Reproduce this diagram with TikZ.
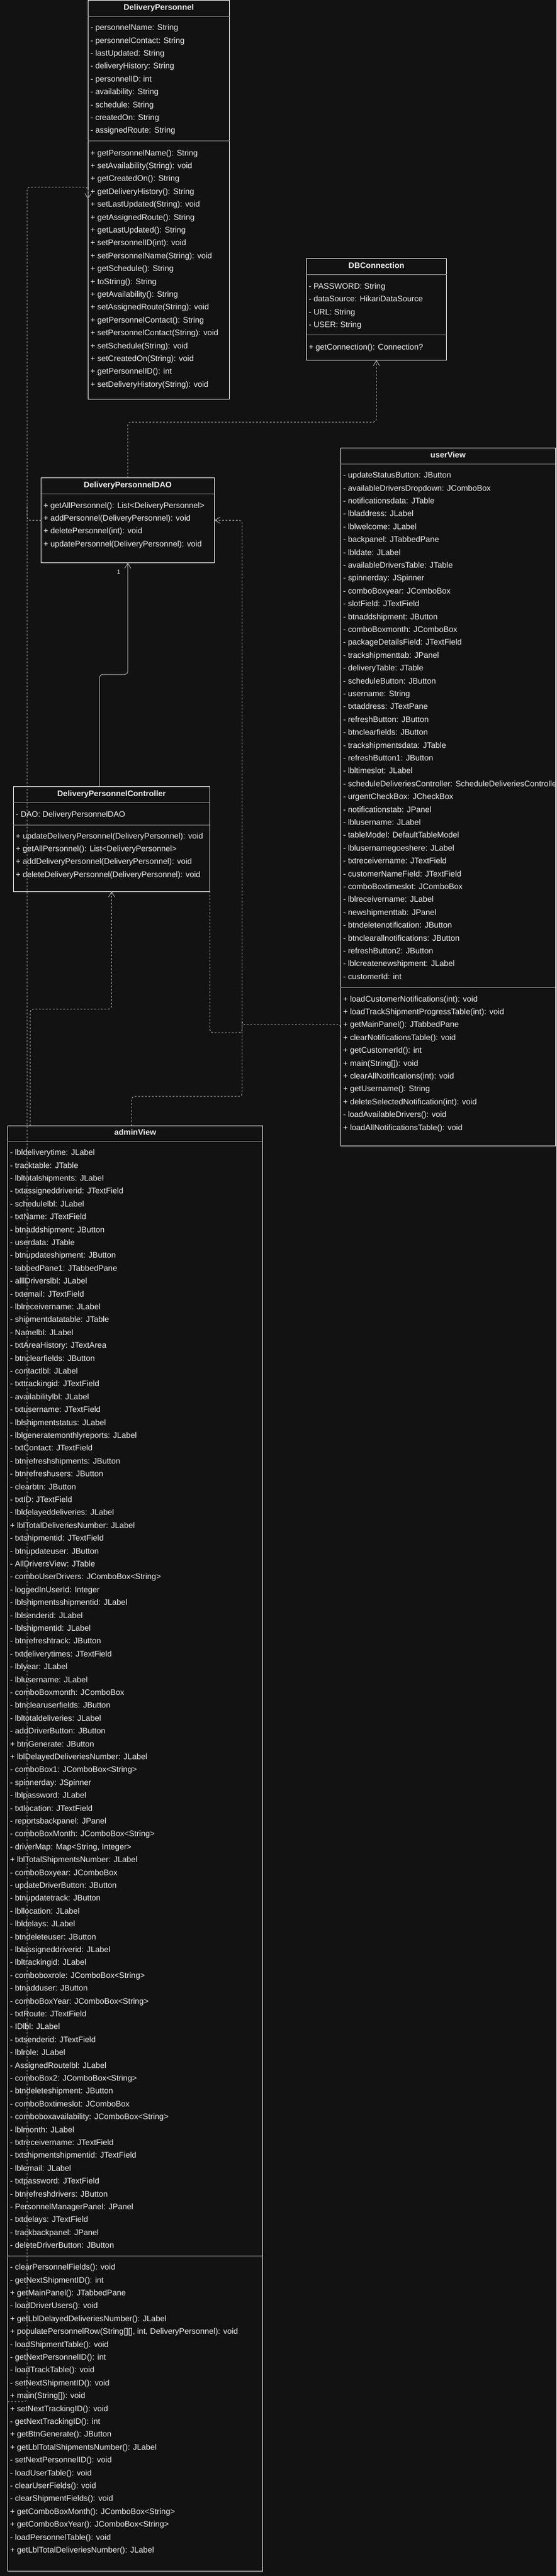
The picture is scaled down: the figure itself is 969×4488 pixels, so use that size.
\documentclass[tikz,border=0pt]{standalone}
\usepackage{fontspec}
\setmainfont{Liberation Sans}
\usetikzlibrary{arrows.meta}
\definecolor{bgc}{HTML}{121212}
\definecolor{fgc}{HTML}{F0F0F0}
\definecolor{sepc}{HTML}{9A9A9A}
\definecolor{edgec}{HTML}{A8A8A8}
% rows of one compartment: name, x, first baseline, entries
\newcommand\umlrows[4]{\foreach \txt [count=\i] in {#4} {\node[row] (#1-\i) at (#2,{#3+22.4*(\i-1)}) {\txt};}}
\begin{document}
\begin{tikzpicture}[x=1pt,y=-1pt,
	box/.style={draw=white,fill=bgc,anchor=north west,inner sep=0,outer sep=0,line width=1pt},
	ttl/.style={anchor=base,inner sep=0,text=fgc,font=\bfseries\fontsize{14}{16}\selectfont},
	row/.style={anchor=base west,inner sep=0,text=fgc,font=\fontsize{14}{16}\selectfont},
	sep/.style={draw=sepc,line width=1pt},
	dep/.style={draw=edgec,line width=1pt,dash pattern=on 3pt off 3pt,rounded corners=5pt},
	assoc/.style={draw=edgec,line width=1pt,rounded corners=5pt},
	tip/.style={-{Straight Barb[length=9pt,width=11pt]}},
	mult/.style={inner sep=0,text=fgc,font=\fontsize{11}{13}\selectfont}]
	\useasboundingbox (0,0) rectangle (969,4488);
	\fill[bgc] (0,0) rectangle (969,4488);

	\node[box,minimum width=246.2pt,minimum height=694.5pt] (dp) at (153.3,0.5) {};
	\node[ttl] (dp-t) at (276.4,18) {DeliveryPersonnel};
	\draw[sep] (153.3,28.5) -- (399.5,28.5);
	\draw[sep] (153.3,245.5) -- (399.5,245.5);
	\umlrows{dp-a}{157.3}{52.8}{- personnelName: String, - personnelContact: String, - lastUpdated: String, - deliveryHistory: String, - personnelID: int, - availability: String, - schedule: String, - createdOn: String, - assignedRoute: String}
	\umlrows{dp-m}{157.3}{271}{+ getPersonnelName(): String, + setAvailability(String): void, + getCreatedOn(): String, + getDeliveryHistory(): String, + setLastUpdated(String): void, + getAssignedRoute(): String, + getLastUpdated(): String, + setPersonnelID(int): void, + setPersonnelName(String): void, + getSchedule(): String, + toString(): String, + getAvailability(): String, + setAssignedRoute(String): void, + getPersonnelContact(): String, + setPersonnelContact(String): void, + setSchedule(String): void, + setCreatedOn(String): void, + getPersonnelID(): int, + setDeliveryHistory(String): void}

	\node[box,minimum width=244.4pt,minimum height=177pt] (db) at (533.3,450.3) {};
	\node[ttl] (db-t) at (655.5,467.5) {DBConnection};
	\draw[sep] (533.3,478.3) -- (777.7,478.3);
	\draw[sep] (533.3,583.3) -- (777.7,583.3);
	\umlrows{db-a}{537.3}{503.3}{- PASSWORD: String, - dataSource: HikariDataSource, - URL: String, - USER: String}
	\umlrows{db-m}{537.3}{609.3}{+ getConnection(): Connection?}

	\node[box,minimum width=301.9pt,minimum height=148pt] (dao) at (71.6,832.3) {};
	\node[ttl] (dao-t) at (222.5,849) {DeliveryPersonnelDAO};
	\draw[sep] (71.6,860.3) -- (373.5,860.3);
	\umlrows{dao-m}{75.6}{885}{+ getAllPersonnel(): List<DeliveryPersonnel>, + addPersonnel(DeliveryPersonnel): void, + deletePersonnel(int): void, + updatePersonnel(DeliveryPersonnel): void}

	\node[box,minimum width=342.2pt,minimum height=182.6pt] (dpc) at (23.3,1370.4) {};
	\node[ttl] (dpc-t) at (194.4,1387.5) {DeliveryPersonnelController};
	\draw[sep] (23.3,1398) -- (365.5,1398);
	\draw[sep] (23.3,1437) -- (365.5,1437);
	\umlrows{dpc-a}{27.3}{1423}{- DAO: DeliveryPersonnelDAO}
	\umlrows{dpc-m}{27.3}{1461}{+ updateDeliveryPersonnel(DeliveryPersonnel): void, + getAllPersonnel(): List<DeliveryPersonnel>, + addDeliveryPersonnel(DeliveryPersonnel): void, + deleteDeliveryPersonnel(DeliveryPersonnel): void}

	\node[box,minimum width=374pt,minimum height=1216.4pt] (uv) at (593.3,780.3) {};
	\node[ttl] (uv-t) at (780.3,797.5) {userView};
	\draw[sep] (593.3,808) -- (967.3,808);
	\draw[sep] (593.3,1720) -- (967.3,1720);
	\begin{scope}
	\clip (593.3,780.3) rectangle (966.8,1996.7);
	\umlrows{uv-a}{597.3}{832.7}{- updateStatusButton: JButton, - availableDriversDropdown: JComboBox, - notificationsdata: JTable, - lbladdress: JLabel, - lblwelcome: JLabel, - backpanel: JTabbedPane, - lbldate: JLabel, - availableDriversTable: JTable, - spinnerday: JSpinner, - comboBoxyear: JComboBox, - slotField: JTextField, - btnaddshipment: JButton, - comboBoxmonth: JComboBox, - packageDetailsField: JTextField, - trackshipmenttab: JPanel, - deliveryTable: JTable, - scheduleButton: JButton, - username: String, - txtaddress: JTextPane, - refreshButton: JButton, - btnclearfields: JButton, - trackshipmentsdata: JTable, - refreshButton1: JButton, - lbltimeslot: JLabel, - scheduleDeliveriesController: ScheduleDeliveriesController, - urgentCheckBox: JCheckBox, - notificationstab: JPanel, - lblusername: JLabel, - tableModel: DefaultTableModel, - lblusernamegoeshere: JLabel, - txtreceivername: JTextField, - customerNameField: JTextField, - comboBoxtimeslot: JComboBox, - lblreceivername: JLabel, - newshipmenttab: JPanel, - btndeletenotification: JButton, - btnclearallnotifications: JButton, - refreshButton2: JButton, - lblcreatenewshipment: JLabel, - customerId: int}
	\umlrows{uv-m}{597.3}{1745}{+ loadCustomerNotifications(int): void, + loadTrackShipmentProgressTable(int): void, + getMainPanel(): JTabbedPane, + clearNotificationsTable(): void, + getCustomerId(): int, {+ main(String[]): void}, + clearAllNotifications(int): void, + getUsername(): String, + deleteSelectedNotification(int): void, - loadAvailableDrivers(): void, + loadAllNotificationsTable(): void}
	\end{scope}

	\node[box,minimum width=444.4pt,minimum height=2518pt] (av) at (13.3,1961) {};
	\node[ttl] (av-t) at (235.5,1977) {adminView};
	\draw[sep] (13.3,1988.4) -- (457.7,1988.4);
	\draw[sep] (13.3,3930.6) -- (457.7,3930.6);
	\umlrows{av-a}{17.3}{2012.7}{- lbldeliverytime: JLabel, - tracktable: JTable, - lbltotalshipments: JLabel, - txtassigneddriverid: JTextField, - schedulelbl: JLabel, - txtName: JTextField, - btnaddshipment: JButton, - userdata: JTable, - btnupdateshipment: JButton, - tabbedPane1: JTabbedPane, - alllDriverslbl: JLabel, - txtemail: JTextField, - lblreceivername: JLabel, - shipmentdatatable: JTable, - Namelbl: JLabel, - txtAreaHistory: JTextArea, - btnclearfields: JButton, - contactlbl: JLabel, - txttrackingid: JTextField, - availabilitylbl: JLabel, - txtusername: JTextField, - lblshipmentstatus: JLabel, - lblgeneratemonthlyreports: JLabel, - txtContact: JTextField, - btnrefreshshipments: JButton, - btnrefreshusers: JButton, - clearbtn: JButton, - txtID: JTextField, - lbldelayeddeliveries: JLabel, + lblTotalDeliveriesNumber: JLabel, - txtshipmentid: JTextField, - btnupdateuser: JButton, - AllDriversView: JTable, - comboUserDrivers: JComboBox<String>, - loggedInUserId: Integer, - lblshipmentsshipmentid: JLabel, - lblsenderid: JLabel, - lblshipmentid: JLabel, - btnrefreshtrack: JButton, - txtdeliverytimes: JTextField, - lblyear: JLabel, - lblusername: JLabel, - comboBoxmonth: JComboBox, - btnclearuserfields: JButton, - lbltotaldeliveries: JLabel, - addDriverButton: JButton, + btnGenerate: JButton, + lblDelayedDeliveriesNumber: JLabel, - comboBox1: JComboBox<String>, - spinnerday: JSpinner, - lblpassword: JLabel, - txtlocation: JTextField, - reportsbackpanel: JPanel, - comboBoxMonth: JComboBox<String>, {- driverMap: Map<String, Integer>}, + lblTotalShipmentsNumber: JLabel, - comboBoxyear: JComboBox, - updateDriverButton: JButton, - btnupdatetrack: JButton, - lbllocation: JLabel, - lbldelays: JLabel, - btndeleteuser: JButton, - lblassigneddriverid: JLabel, - lbltrackingid: JLabel, - comboboxrole: JComboBox<String>, - btnadduser: JButton, - comboBoxYear: JComboBox<String>, - txtRoute: JTextField, - IDlbl: JLabel, - txtsenderid: JTextField, - lblrole: JLabel, - AssignedRoutelbl: JLabel, - comboBox2: JComboBox<String>, - btndeleteshipment: JButton, - comboBoxtimeslot: JComboBox, - comboboxavailability: JComboBox<String>, - lblmonth: JLabel, - txtreceivername: JTextField, - txtshipmentshipmentid: JTextField, - lblemail: JLabel, - txtpassword: JTextField, - btnrefreshdrivers: JButton, - PersonnelManagerPanel: JPanel, - txtdelays: JTextField, - trackbackpanel: JPanel, - deleteDriverButton: JButton}
	\umlrows{av-m}{17.3}{3954.6}{- clearPersonnelFields(): void, - getNextShipmentID(): int, + getMainPanel(): JTabbedPane, - loadDriverUsers(): void, + getLblDelayedDeliveriesNumber(): JLabel, {+ populatePersonnelRow(String[][], int, DeliveryPersonnel): void}, - loadShipmentTable(): void, - getNextPersonnelID(): int, - loadTrackTable(): void, - setNextShipmentID(): void, {+ main(String[]): void}, + setNextTrackingID(): void, - getNextTrackingID(): int, + getBtnGenerate(): JButton, + getLblTotalShipmentsNumber(): JLabel, - setNextPersonnelID(): void, - loadUserTable(): void, - clearUserFields(): void, - clearShipmentFields(): void, + getComboBoxMonth(): JComboBox<String>, + getComboBoxYear(): JComboBox<String>, - loadPersonnelTable(): void, + getLblTotalDeliveriesNumber(): JLabel}

	\coordinate (dpin) at (153.3,347);
	\coordinate (avout) at (13.3,4184);
	\coordinate (av-p1) at (52.7,1961);
	\coordinate (av-p2) at (229.3,1961);
	\coordinate (dpc-p1) at (173.4,1370.4);
	\coordinate (uv-p1) at (593.3,1795);
	\coordinate (daoin) at (421.7,906.3);

	\draw[dep,tip] (dao.north) -- ++(0,-97) -| (db.south);
	\draw[dep] (dao.west) -| (47,880);
	\draw[dep,tip] (avout) -| (47,326) -| (dpin);
	\draw[dep,tip] (av-p1) -- ++(0,-203) -| (dpc.south);
	\draw[assoc,tip] (dpc-p1) -- ++(0,-195.4) -| (dao.south);
	\node[mult] (dao-n) at (206.7,997) {1};
	\draw[dep,tip] (av-p2) -- ++(0,-51) -| (daoin) -- (dao.east);
	\draw[dep] (dpc.south east) -- ++(0,246) -| (421.7,1780);
	\draw[dep] (uv-p1) |- (421.7,1785) -- (421.7,1775);
\end{tikzpicture}
\end{document}
